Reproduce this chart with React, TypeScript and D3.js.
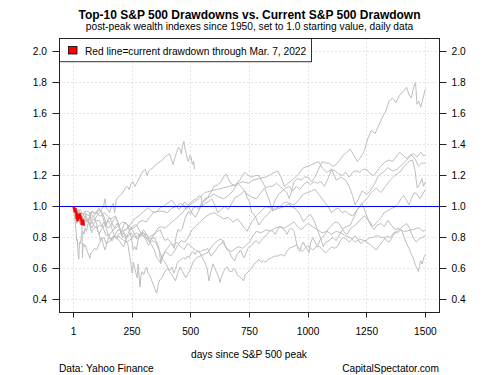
import React from 'react';
import * as d3 from 'd3';

const xTicks = [1, 250, 500, 750, 1000, 1250, 1500];
const yTicks = [0.4, 0.6, 0.8, 1.0, 1.2, 1.4, 1.6, 1.8, 2.0];

const s2020: [number, number][] = [[1,1.0],[5,0.95],[10,0.87],[14,0.78],[17,0.79],[20,0.70],[23,0.66],[26,0.77],[30,0.76],[35,0.82],[40,0.84],[45,0.82],[50,0.86],[55,0.84],[62,0.88],[68,0.93],[72,0.95],[76,0.89],[82,0.92],[90,0.91],[97,0.93],[105,0.95],[112,0.96],[120,0.98],[128,1.00],[135,1.05],[140,0.99],[148,0.98],[155,0.96],[162,1.00],[170,1.02],[176,0.96],[182,1.04],[190,1.06],[198,1.07],[206,1.08],[214,1.10],[222,1.12],[230,1.13],[238,1.11],[246,1.15],[254,1.16],[262,1.13],[270,1.15],[280,1.18],[290,1.21],[298,1.23],[306,1.24],[314,1.20],[322,1.23],[330,1.24],[340,1.25],[350,1.27],[360,1.28],[370,1.29],[380,1.30],[390,1.32],[400,1.33],[410,1.34],[418,1.30],[425,1.27],[432,1.31],[440,1.35],[448,1.38],[455,1.37],[460,1.34],[465,1.39],[471,1.42],[476,1.37],[481,1.34],[486,1.30],[491,1.29],[496,1.33],[502,1.32],[506,1.28],[510,1.27],[513,1.29],[516,1.24]];

const s1987: [number, number][] = [[1,1.0],[8,0.98],[15,0.96],[22,0.98],[28,0.96],[33,0.92],[37,0.85],[39,0.67],[41,0.74],[44,0.76],[48,0.74],[52,0.75],[57,0.72],[62,0.70],[67,0.68],[70,0.665],[75,0.70],[82,0.71],[90,0.73],[100,0.72],[110,0.76],[120,0.79],[130,0.80],[140,0.76],[150,0.77],[160,0.78],[170,0.81],[180,0.80],[190,0.81],[200,0.80],[215,0.78],[230,0.77],[245,0.79],[260,0.82],[270,0.83],[285,0.81],[300,0.81],[315,0.79],[330,0.81],[345,0.82],[360,0.86],[375,0.87],[390,0.86],[405,0.88],[420,0.90],[435,0.92],[450,0.94],[465,0.96],[480,0.99],[495,1.02],[510,1.04],[525,1.05],[535,1.07],[545,1.06],[550,1.00],[560,1.02],[575,1.03],[590,1.05],[605,1.00],[615,0.96],[630,0.98],[645,1.00],[660,0.98],[675,1.02],[690,1.06],[705,1.07],[720,1.09],[730,1.10],[740,1.06],[750,1.03],[760,0.96],[770,0.95],[780,0.92],[790,0.88],[800,0.90],[815,0.93],[830,0.95],[845,0.98],[860,1.04],[875,1.08],[890,1.10],[905,1.12],[920,1.13],[935,1.10],[950,1.13],[965,1.11],[980,1.14],[995,1.16],[1010,1.14],[1025,1.16],[1040,1.15],[1055,1.16],[1070,1.13],[1085,1.18],[1100,1.24],[1115,1.23],[1130,1.21],[1145,1.20],[1160,1.22],[1175,1.19],[1190,1.22],[1205,1.23],[1220,1.22],[1235,1.24],[1250,1.24],[1265,1.21],[1280,1.20],[1295,1.23],[1310,1.26],[1330,1.29],[1345,1.30],[1360,1.29],[1375,1.32],[1390,1.35],[1405,1.33],[1420,1.31],[1435,1.33],[1450,1.34],[1465,1.32],[1480,1.35],[1490,1.33],[1500,1.33]];

const s1961: [number, number][] = [[1,1.0],[10,0.99],[20,0.97],[30,0.98],[40,0.95],[50,0.97],[60,0.97],[70,0.96],[80,0.94],[90,0.93],[100,0.88],[105,0.84],[110,0.82],[115,0.78],[120,0.80],[128,0.75],[135,0.72],[142,0.76],[150,0.80],[160,0.79],[175,0.81],[185,0.80],[200,0.77],[208,0.75],[215,0.74],[225,0.79],[240,0.85],[255,0.86],[265,0.87],[280,0.90],[295,0.91],[310,0.90],[325,0.93],[340,0.96],[360,0.97],[380,0.97],[400,0.96],[420,0.99],[440,1.00],[455,1.02],[470,1.01],[480,0.98],[495,1.01],[515,1.03],[535,1.05],[560,1.09],[585,1.10],[610,1.11],[640,1.12],[665,1.13],[690,1.14],[720,1.16],[745,1.15],[765,1.17],[790,1.18],[820,1.19],[845,1.21],[870,1.23],[885,1.19],[900,1.13],[915,1.15],[940,1.18],[960,1.21],[980,1.25],[1000,1.26],[1015,1.27],[1030,1.28],[1045,1.29],[1060,1.25],[1080,1.22],[1100,1.24],[1120,1.17],[1140,1.19],[1160,1.17],[1175,1.13],[1190,1.07],[1200,1.01],[1215,1.05],[1230,1.10],[1250,1.08],[1265,1.10],[1285,1.15],[1300,1.20],[1320,1.22],[1340,1.25],[1360,1.23],[1380,1.24],[1400,1.27],[1420,1.30],[1440,1.33],[1455,1.31],[1470,1.26],[1485,1.28],[1500,1.28]];

const s1966: [number, number][] = [[1,1.0],[10,0.97],[20,0.94],[30,0.96],[40,0.95],[50,0.93],[60,0.91],[70,0.89],[80,0.86],[90,0.90],[100,0.91],[110,0.91],[120,0.88],[130,0.85],[140,0.81],[150,0.82],[158,0.79],[165,0.778],[175,0.81],[190,0.85],[205,0.84],[225,0.85],[240,0.88],[260,0.92],[280,0.94],[300,0.97],[320,0.99],[335,0.97],[350,0.96],[370,0.99],[390,1.01],[410,1.03],[420,1.04],[435,1.01],[450,0.98],[465,1.01],[475,1.03],[490,1.00],[505,0.96],[520,0.93],[540,0.99],[560,1.05],[580,1.06],[600,1.08],[620,1.06],[640,1.05],[660,1.07],[680,1.10],[700,1.15],[720,1.12],[740,1.08],[760,1.06],[780,1.05],[800,1.09],[815,1.12],[830,1.06],[850,0.97],[865,0.99],[880,1.00],[895,1.02],[910,1.03],[930,1.00],[950,0.98],[965,0.95],[980,0.90],[995,0.93],[1010,0.95],[1025,0.91],[1040,0.85],[1055,0.79],[1065,0.74],[1075,0.77],[1090,0.78],[1105,0.80],[1120,0.78],[1135,0.82],[1150,0.86],[1165,0.87],[1180,0.88],[1195,0.93],[1210,0.98],[1230,1.02],[1250,1.05],[1270,1.09],[1290,1.12],[1310,1.09],[1330,1.13],[1350,1.17],[1370,1.20],[1390,1.22],[1410,1.26],[1430,1.29],[1445,1.30],[1455,1.24],[1465,1.12],[1475,1.14],[1485,1.18],[1492,1.13],[1500,1.16]];

const s1968: [number, number][] = [[1,1.0],[10,0.98],[20,0.97],[30,0.95],[45,0.92],[60,0.90],[70,0.92],[80,0.93],[95,0.95],[110,0.98],[120,0.96],[130,0.91],[140,0.86],[150,0.81],[160,0.83],[170,0.85],[180,0.86],[195,0.88],[210,0.90],[225,0.89],[240,0.87],[255,0.84],[270,0.79],[285,0.81],[300,0.83],[315,0.81],[330,0.76],[345,0.72],[355,0.67],[370,0.64],[380,0.68],[390,0.71],[400,0.70],[415,0.68],[430,0.71],[445,0.75],[460,0.78],[475,0.77],[490,0.80],[505,0.85],[520,0.87],[540,0.90],[560,0.93],[580,0.95],[600,0.96],[620,0.94],[640,0.92],[660,0.93],[680,0.90],[700,0.92],[720,0.88],[740,0.84],[760,0.90],[780,0.94],[800,0.97],[820,1.00],[840,0.99],[860,0.98],[880,0.99],[900,1.00],[920,1.02],[940,1.01],[960,1.04],[980,1.08],[1000,1.09],[1015,1.10],[1030,1.11],[1050,1.07],[1070,1.03],[1085,1.00],[1100,0.96],[1115,0.98],[1130,0.99],[1145,0.96],[1160,0.97],[1175,0.95],[1190,0.94],[1210,0.98],[1230,1.02],[1245,0.96],[1260,0.90],[1270,0.87],[1280,0.85],[1295,0.88],[1310,0.89],[1325,0.87],[1340,0.91],[1355,0.88],[1370,0.85],[1385,0.86],[1400,0.84],[1410,0.80],[1420,0.76],[1430,0.73],[1440,0.69],[1450,0.66],[1458,0.62],[1465,0.60],[1470,0.58],[1475,0.62],[1480,0.65],[1486,0.63],[1493,0.67],[1500,0.69]];

const s1973: [number, number][] = [[1,1.0],[10,0.98],[20,0.96],[30,0.94],[40,0.93],[50,0.91],[60,0.92],[70,0.89],[80,0.90],[90,0.87],[100,0.86],[110,0.88],[120,0.87],[130,0.90],[140,0.88],[150,0.86],[160,0.88],[170,0.91],[180,0.93],[190,0.90],[200,0.85],[210,0.80],[220,0.82],[230,0.80],[245,0.83],[260,0.80],[275,0.81],[290,0.83],[305,0.80],[320,0.75],[335,0.78],[350,0.77],[365,0.72],[380,0.66],[395,0.63],[410,0.58],[420,0.56],[428,0.54],[435,0.52],[445,0.57],[455,0.61],[465,0.58],[480,0.54],[490,0.57],[500,0.60],[510,0.64],[525,0.67],[540,0.68],[555,0.69],[570,0.70],[585,0.73],[600,0.76],[615,0.78],[630,0.79],[645,0.75],[660,0.72],[675,0.71],[690,0.73],[705,0.74],[720,0.73],[735,0.75],[750,0.77],[765,0.81],[780,0.84],[800,0.83],[820,0.85],[840,0.84],[860,0.86],[880,0.87],[900,0.86],[920,0.88],[940,0.90],[955,0.87],[970,0.85],[985,0.87],[1000,0.89],[1020,0.87],[1040,0.85],[1060,0.83],[1080,0.84],[1100,0.82],[1120,0.84],[1140,0.83],[1160,0.81],[1180,0.80],[1200,0.77],[1220,0.79],[1240,0.78],[1260,0.76],[1275,0.74],[1290,0.72],[1305,0.75],[1320,0.78],[1335,0.81],[1350,0.80],[1365,0.83],[1380,0.84],[1395,0.86],[1410,0.88],[1420,0.89],[1432,0.86],[1445,0.81],[1455,0.78],[1462,0.77],[1472,0.79],[1485,0.80],[1500,0.81]];

const s1980: [number, number][] = [[1,1.0],[5,0.95],[10,0.91],[20,0.97],[30,0.95],[40,0.92],[50,0.91],[60,0.90],[70,0.93],[80,0.97],[90,0.96],[100,0.96],[110,0.94],[120,0.94],[130,0.96],[140,0.95],[150,0.93],[160,0.92],[170,0.93],[180,0.94],[190,0.89],[200,0.85],[205,0.81],[215,0.84],[230,0.86],[240,0.85],[250,0.87],[260,0.88],[270,0.88],[280,0.85],[290,0.82],[300,0.83],[310,0.80],[318,0.78],[325,0.77],[335,0.80],[350,0.83],[360,0.84],[370,0.85],[380,0.81],[390,0.78],[400,0.79],[410,0.78],[420,0.76],[430,0.73],[437,0.80],[445,0.85],[455,0.84],[465,0.86],[475,0.92],[490,0.97],[500,0.95],[510,0.99],[525,1.00],[535,0.98],[545,1.02],[560,1.04],[570,1.05],[585,1.09],[600,1.13],[615,1.14],[630,1.16],[640,1.19],[650,1.21],[660,1.18],[670,1.15],[680,1.14],[690,1.13],[700,1.16],[710,1.17],[720,1.20],[730,1.22],[745,1.20],[760,1.19],[775,1.20],[790,1.20],[805,1.16],[820,1.12],[835,1.13],[850,1.13],[865,1.15],[880,1.13],[895,1.11],[910,1.09],[920,1.05],[930,1.10],[940,1.16],[955,1.18],[970,1.17],[985,1.19],[1000,1.19],[1015,1.16],[1030,1.19],[1045,1.24],[1060,1.29],[1075,1.28],[1090,1.28],[1105,1.26],[1120,1.27],[1135,1.30],[1150,1.33],[1165,1.35],[1180,1.37],[1195,1.33],[1210,1.29],[1225,1.32],[1240,1.36],[1255,1.44],[1270,1.49],[1285,1.47],[1300,1.52],[1315,1.57],[1330,1.61],[1345,1.68],[1360,1.70],[1375,1.67],[1390,1.72],[1405,1.74],[1420,1.77],[1430,1.72],[1440,1.70],[1450,1.77],[1458,1.80],[1464,1.66],[1472,1.68],[1480,1.64],[1490,1.70],[1500,1.76]];

const s2000: [number, number][] = [[1,1.0],[5,0.97],[10,0.94],[15,0.89],[22,0.93],[30,0.93],[35,0.91],[40,0.90],[48,0.92],[55,0.95],[65,0.94],[72,0.96],[80,0.97],[90,0.95],[100,0.97],[110,0.99],[118,0.97],[125,0.95],[132,0.93],[140,0.88],[148,0.92],[155,0.93],[165,0.89],[175,0.86],[185,0.89],[195,0.87],[205,0.83],[212,0.87],[220,0.90],[230,0.88],[240,0.84],[248,0.79],[255,0.72],[262,0.74],[268,0.72],[275,0.78],[282,0.82],[290,0.82],[298,0.85],[308,0.83],[320,0.80],[332,0.79],[345,0.80],[355,0.77],[363,0.74],[368,0.70],[372,0.63],[380,0.67],[390,0.71],[400,0.73],[415,0.76],[428,0.75],[440,0.77],[450,0.75],[460,0.74],[472,0.72],[485,0.76],[497,0.75],[510,0.73],[520,0.72],[530,0.71],[540,0.70],[550,0.67],[560,0.64],[570,0.60],[578,0.52],[586,0.58],[595,0.63],[603,0.60],[612,0.57],[618,0.55],[625,0.51],[632,0.55],[640,0.58],[648,0.60],[655,0.61],[665,0.58],[675,0.58],[683,0.60],[690,0.59],[698,0.56],[705,0.55],[715,0.54],[725,0.52],[732,0.56],[740,0.57],[750,0.59],[760,0.60],[770,0.63],[780,0.64],[790,0.66],[800,0.64],[810,0.65],[820,0.64],[830,0.66],[845,0.67],[858,0.68],[870,0.68],[885,0.69],[900,0.68],[910,0.71],[920,0.73],[935,0.74],[950,0.75],[962,0.73],[975,0.71],[988,0.73],[1000,0.75],[1010,0.73],[1020,0.72],[1035,0.74],[1050,0.74],[1062,0.72],[1075,0.70],[1088,0.72],[1100,0.74],[1112,0.73],[1125,0.74],[1138,0.78],[1150,0.80],[1162,0.79],[1175,0.77],[1188,0.79],[1200,0.81],[1212,0.79],[1225,0.76],[1238,0.78],[1250,0.78],[1262,0.80],[1275,0.80],[1288,0.81],[1300,0.81],[1312,0.80],[1325,0.80],[1335,0.78],[1345,0.77],[1358,0.80],[1370,0.83],[1382,0.83],[1395,0.85],[1408,0.84],[1420,0.84],[1435,0.85],[1450,0.85],[1462,0.86],[1475,0.86],[1488,0.84],[1500,0.85]];

const s2007: [number, number][] = [[1,1.0],[8,0.99],[15,0.98],[22,0.93],[30,0.88],[38,0.93],[45,0.95],[50,0.96],[58,0.92],[65,0.90],[72,0.87],[78,0.83],[82,0.85],[90,0.86],[98,0.87],[105,0.84],[110,0.82],[118,0.85],[125,0.86],[132,0.88],[140,0.89],[148,0.91],[155,0.89],[162,0.87],[170,0.83],[178,0.80],[185,0.79],[192,0.82],[200,0.83],[210,0.82],[218,0.83],[225,0.78],[232,0.76],[238,0.70],[244,0.65],[249,0.58],[252,0.57],[256,0.64],[262,0.60],[268,0.56],[272,0.54],[276,0.63],[280,0.56],[284,0.48],[288,0.55],[293,0.58],[300,0.56],[306,0.59],[312,0.61],[318,0.57],[325,0.56],[332,0.53],[340,0.50],[347,0.47],[355,0.44],[362,0.50],[370,0.53],[378,0.54],[386,0.57],[395,0.59],[403,0.60],[412,0.59],[420,0.61],[428,0.57],[436,0.60],[444,0.64],[452,0.65],[460,0.66],[470,0.67],[478,0.66],[486,0.68],[494,0.67],[502,0.70],[510,0.71],[518,0.69],[526,0.71],[534,0.71],[542,0.71],[552,0.72],[562,0.72],[572,0.73],[580,0.70],[588,0.68],[596,0.70],[604,0.71],[612,0.73],[620,0.75],[630,0.76],[640,0.78],[648,0.74],[656,0.72],[664,0.71],[672,0.68],[680,0.66],[688,0.65],[696,0.69],[704,0.70],[712,0.72],[720,0.69],[728,0.67],[736,0.70],[744,0.73],[752,0.74],[760,0.75],[770,0.77],[780,0.78],[790,0.76],[800,0.78],[810,0.80],[820,0.81],[830,0.83],[840,0.85],[850,0.84],[860,0.82],[870,0.85],[880,0.87],[890,0.86],[900,0.85],[910,0.82],[920,0.85],[930,0.86],[940,0.84],[950,0.77],[958,0.72],[965,0.71],[972,0.75],[980,0.77],[988,0.74],[996,0.73],[1004,0.70],[1012,0.77],[1020,0.80],[1030,0.77],[1040,0.74],[1050,0.78],[1060,0.80],[1072,0.82],[1084,0.85],[1096,0.87],[1108,0.89],[1120,0.90],[1132,0.89],[1144,0.86],[1156,0.83],[1166,0.82],[1178,0.85],[1190,0.87],[1202,0.88],[1214,0.90],[1226,0.92],[1240,0.94],[1252,0.92],[1264,0.90],[1276,0.87],[1288,0.89],[1300,0.91],[1312,0.93],[1324,0.96],[1336,0.97],[1348,0.98],[1360,0.99],[1372,1.00],[1384,1.02],[1396,1.05],[1408,1.07],[1420,1.04],[1430,1.01],[1440,1.05],[1452,1.09],[1464,1.08],[1476,1.05],[1488,1.08],[1500,1.11]];

const sCurrent: [number, number][] = [[1,1.0],[3,0.985],[5,0.98],[6,0.962],[8,0.99],[10,0.975],[12,0.965],[13,0.955],[15,0.92],[16,0.925],[18,0.913],[19,0.905],[20,0.93],[22,0.94],[23,0.952],[25,0.94],[27,0.945],[28,0.955],[30,0.92],[32,0.932],[34,0.915],[36,0.89],[37,0.882],[38,0.893],[39,0.913],[40,0.9],[41,0.913],[43,0.905],[44,0.876]];

const pastSeries = [s1961, s1966, s1968, s1973, s1980, s1987, s2000, s2007, s2020];

const L = 59.5, R = 439.5, T = 38.5, B = 312.5;
const FONT = "'Liberation Sans', Arial, Helvetica, sans-serif";

export default function App() {
  const x = d3.scaleLinear().domain([-59, 1560]).range([L, R]);
  const y = d3.scaleLinear().domain([0.316, 2.084]).range([B, T]);
  const line = d3.line<[number, number]>().x(d => x(d[0])).y(d => y(d[1]));
  const cy = (v: number) => Math.round(y(v) - 0.5) + 0.5;
  const cx = (v: number) => Math.round(x(v) - 0.5) + 0.5;

  return (
    <svg width={500} height={375} style={{ position: 'absolute', left: 0, top: 0, background: '#fff' }} fontFamily={FONT}>
      <rect x={0} y={0} width={500} height={375} fill="#fff" />
      <text x={249.5} y={19.3} textAnchor="middle" fontSize={12} fontWeight="bold" fill="#000">Top-10 S&amp;P 500 Drawdowns vs. Current S&amp;P 500 Drawdown</text>
      <text x={249.5} y={30.4} textAnchor="middle" fontSize={10.2} fill="#000">post-peak wealth indexes since 1950, set to 1.0 starting value, daily data</text>

      {xTicks.map(t => (
        <line key={'gx' + t} x1={cx(t)} x2={cx(t)} y1={T} y2={B} stroke="#c8c8c8" strokeDasharray="1,3" />
      ))}
      {yTicks.map(t => (
        <line key={'gy' + t} x1={L} x2={R} y1={cy(t)} y2={cy(t)} stroke="#c8c8c8" strokeDasharray="1,3" />
      ))}

      <defs>
        <clipPath id="clip"><rect x={L} y={T} width={R - L} height={B - T} /></clipPath>
      </defs>
      <g clipPath="url(#clip)">
        {pastSeries.map((s, i) => (
          <path key={i} d={line(s) || ''} fill="none" stroke="#bebebe" strokeWidth={1} />
        ))}
        <line x1={L} x2={R} y1={cy(1.0)} y2={cy(1.0)} stroke="#0000ff" strokeWidth={1} />
        <path d={line(sCurrent) || ''} fill="none" stroke="#ff0000" strokeWidth={2.5} />
      </g>

      <rect x={L} y={T} width={252} height={23.2} fill="#fff" stroke="#333" strokeWidth={1} />
      <rect x={68.5} y={46.5} width={8.5} height={7.5} fill="#ff0000" stroke="#000" strokeWidth={0.8} />
      <text x={85} y={55.3} fontSize={10.2} fill="#000">Red line=current drawdown through Mar. 7, 2022</text>

      <rect x={L} y={T} width={R - L} height={B - T} fill="none" stroke="#222" strokeWidth={1} />

      {yTicks.map(t => (
        <g key={'ly' + t}>
          <line x1={52.5} x2={L} y1={cy(t)} y2={cy(t)} stroke="#222" />
          <text x={47} y={y(t) + 3.6} textAnchor="end" fontSize={10.2} fill="#000">{t.toFixed(1)}</text>
          <line x1={R} x2={446.5} y1={cy(t)} y2={cy(t)} stroke="#222" />
          <text x={451.5} y={y(t) + 3.6} textAnchor="start" fontSize={10.2} fill="#000">{t.toFixed(1)}</text>
        </g>
      ))}
      {xTicks.map(t => (
        <g key={'lx' + t}>
          <line x1={cx(t)} x2={cx(t)} y1={B} y2={317.5} stroke="#222" />
          <text x={x(t)} y={335.3} textAnchor="middle" fontSize={10.2} fill="#000">{t}</text>
        </g>
      ))}

      <text x={249} y={358} textAnchor="middle" fontSize={10.2} fill="#000">days since S&amp;P 500 peak</text>
      <text x={59} y={371.5} textAnchor="start" fontSize={10.2} fill="#000">Data: Yahoo Finance</text>
      <text x={439} y={371.5} textAnchor="end" fontSize={10.2} fill="#000">CapitalSpectator.com</text>
    </svg>
  );
}
